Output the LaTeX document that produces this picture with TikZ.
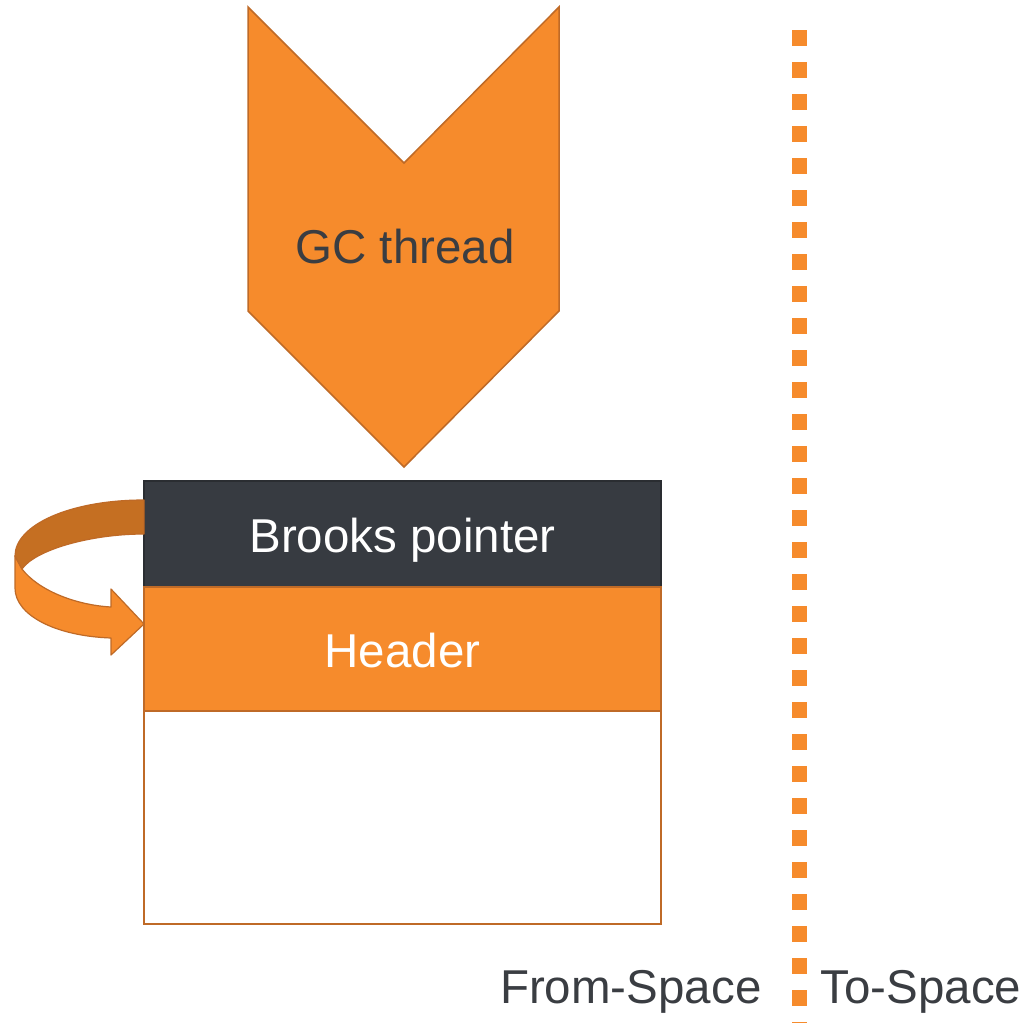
\documentclass[tikz,border=0pt]{standalone}
\usepackage{fontspec}
\setmainfont{Liberation Sans}
\definecolor{gcorange}{HTML}{F68B2C}
\definecolor{gcedge}{HTML}{BF6A27}
\definecolor{gcfold}{HTML}{C56F22}
\definecolor{gcdark}{HTML}{373B41}
\definecolor{gcdarkedge}{HTML}{2A2D31}
\definecolor{gctext}{HTML}{3A3D42}
\begin{document}
\begin{tikzpicture}[x=1pt,y=-1pt,
  bigtext/.style={font=\fontsize{47.5}{57}\selectfont},
  field/.style={bigtext, anchor=north west, inner sep=0pt, outer sep=0pt,
    minimum width=517pt, text height=36pt, text depth=0pt, line width=1.5pt},
  ribbon/.style={draw=gcedge, line width=1.2pt, line join=round}]
\useasboundingbox[fill=white] (0,0) rectangle (1028,1023);

% GC thread chevron pointing down at the object
\path[fill=gcorange, draw=gcedge, line width=1.5pt, line join=miter]
  (248,7) -- (404,163) -- (559,7) -- (559,311) -- (404,467) -- (248,311) -- cycle;
\node[bigtext, text=gctext, anchor=base] (gc) at (405,263) {GC thread};

% object layout: forwarding pointer, header, payload
\node[field, minimum height=106pt, fill=gcdark, draw=gcdarkedge, text=white]
  (brooks) at (144,481) {Brooks pointer};
\node[field, minimum height=124pt, fill=gcorange, draw=gcedge, text=white]
  (header) at (144,587) {Header};
\node[field, minimum height=213pt, fill=white, draw=gcedge]
  (body) at (144,711) {};

% self-referencing U-turn arrow: lower (front) band with head
\path[ribbon, fill=gcorange]
  (15,556) -- (15,588)
  .. controls (15,615) and (55,636) .. (111,638)
  -- (111,655) -- (brooks.south west |- 0,624) -- (111,589) -- (111,607)
  .. controls (75,605) and (38,590) .. (22,569) -- cycle;
% upper (back) band leaving the Brooks pointer
\path[ribbon, fill=gcfold]
  (brooks.west |- 0,500)
  .. controls (70,500) and (15,525) .. (15,556)
  -- (22,569)
  .. controls (35,550) and (90,534) .. (brooks.west |- 0,534) -- cycle;

% boundary between the two semispaces
\coordinate (split top) at (799.5,30);
\coordinate (split bottom) at (799.5,1023);
\draw[gcorange, line width=15pt, dash pattern=on 16pt off 16pt] (split top) -- (split bottom);

\node[bigtext, text=gctext, anchor=base east] (from) at (765,1003) {From-Space};
\node[bigtext, text=gctext, anchor=base west] (to) at (817,1003) {To-Space};
\end{tikzpicture}
\end{document}
